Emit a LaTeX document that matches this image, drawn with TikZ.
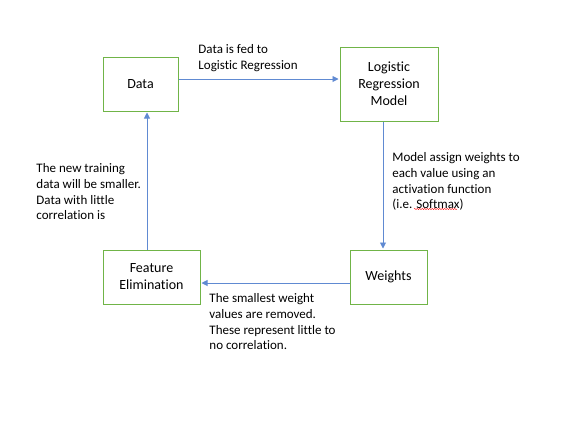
\documentclass[tikz,border=0pt]{standalone}
\usepackage{fontspec}
\setmainfont[Ligatures=NoCommon]{Carlito}
\usetikzlibrary{arrows.meta,decorations.pathmorphing}
\definecolor{boxgreen}{RGB}{112,180,71}
\definecolor{arrowblue}{RGB}{96,138,210}
\begin{document}
\begin{tikzpicture}[x=1pt,y=-1pt]
        \useasboundingbox (0,0) rectangle (561,429);
        \tikzstyle{every path}=[line width=0.9pt]
        \tikzstyle{stage} = [draw=boxgreen, line width=1pt, align=center, inner sep=0pt, font=\fontsize{14}{17}\selectfont]
        \tikzstyle{note} = [anchor=north west, align=left, inner sep=0pt, font=\fontsize{13}{15.8}\selectfont]
        \tikzstyle{flow} = [draw=arrowblue, -{Triangle[length=6pt,width=6pt]}, shorten >=1pt]
        \node[stage, minimum width=75pt, minimum height=54pt](data) at (140.5,84){Data};
        \node[stage, minimum width=98pt, minimum height=74pt](lrm) at (389,84){Logistic\\Regression\\Model};
        \node[stage, minimum width=77pt, minimum height=54pt](weights) at (388.5,277){Weights};
        \node[stage, minimum width=97pt, minimum height=54pt](feature) at (151.5,277){Feature\\Elimination};
        \node[note](fed) at (198,44){Data is fed to\\Logistic Regression};
        \node[note](assign) at (392,152){Model assign weights to\\each value using an\\activation function\\(i.e. Softmax)};
        \node[note](smaller) at (36,163){The new training\\data will be smaller.\\Data with little\\correlation is};
        \node[note](removed) at (209,293){The smallest weight\\values are removed.\\These represent little to\\no correlation.};
        \draw[flow] ([yshift=5pt]data.east) -- ([yshift=5pt]lrm.west);
        \draw[flow] ([xshift=-6pt]lrm.south) -- ([xshift=-5.5pt]weights.north);
        \draw[flow] ([yshift=-6pt]weights.west) -- ([yshift=-6pt]feature.east);
        \draw[flow] ([xshift=-4.5pt]feature.north) -- ([xshift=6.5pt]data.south);
        % spell-check mark
        \draw[red, line width=0.4pt, decorate, decoration={snake, amplitude=0.6pt, segment length=2.5pt}] (414,209) -- (457,209);
\end{tikzpicture}
\end{document}
